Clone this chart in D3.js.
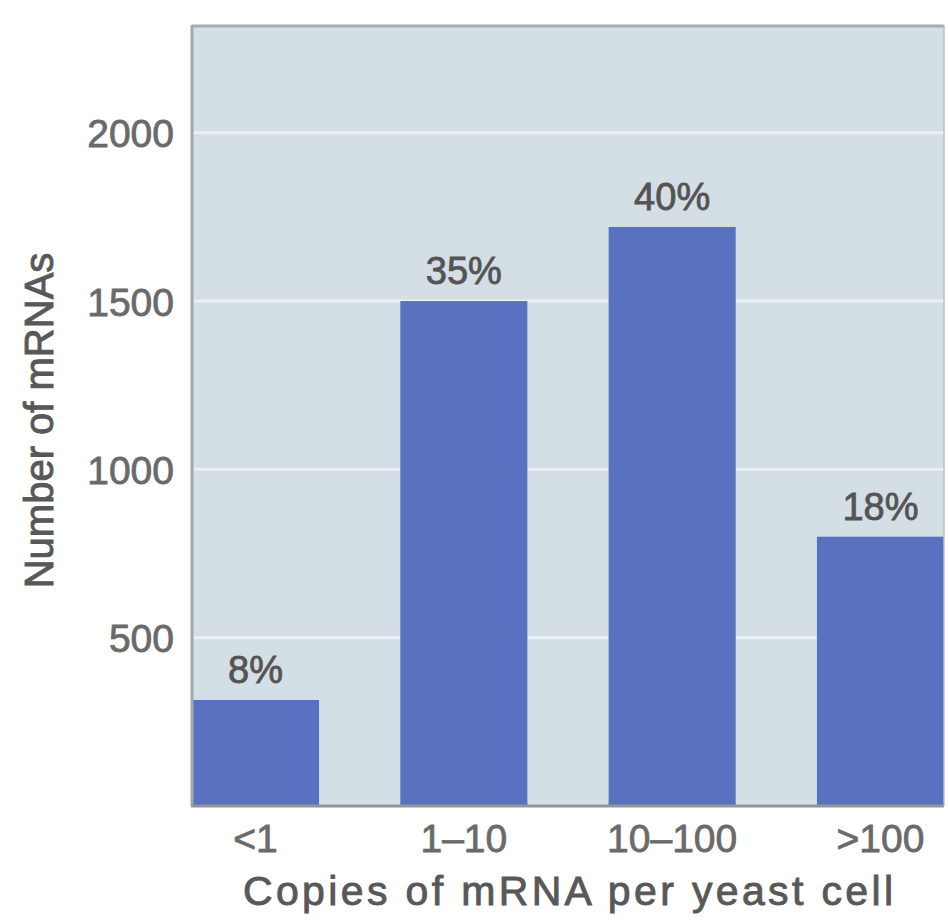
<!DOCTYPE html>
<html>
<head>
<meta charset="utf-8">
<script src="https://cdn.jsdelivr.net/npm/d3@7"></script>
<style>
  html, body { margin: 0; padding: 0; background: #ffffff; }
  svg { display: block; }
  text { font-family: "Liberation Sans", Arial, Helvetica, sans-serif; }
</style>
</head>
<body>
<script>
// ---- data ----
const categories = ["<1", "1\u201310", "10\u2013100", ">100"];
const counts = [315, 1500, 1720, 800];
const percentLabels = ["8%", "35%", "40%", "18%"];
const yTicks = [500, 1000, 1500, 2000];
const yMax = 2320;
const xTitle = "Copies of mRNA per yeast cell";
const yTitle = "Number of mRNAs";

// ---- layout ----
const W = 948, H = 924;
const pLeft = 192, pRight = 944, pTop = 25, pBottom = 806;

const svg = d3.select("body").append("svg").attr("width", W).attr("height", H);

const x = d3.scaleBand().domain(categories).range([pLeft, pRight]).paddingInner(0.39).paddingOuter(0);
const y = d3.scaleLinear().domain([0, yMax]).range([pBottom, pTop]);

// plot background
svg.append("rect").attr("x", pLeft).attr("y", pTop).attr("width", pRight - pLeft).attr("height", pBottom - pTop)
  .attr("fill", "#d4dee5");

// gridlines
svg.append("g").selectAll("line").data(yTicks).join("line")
  .attr("x1", pLeft).attr("x2", pRight)
  .attr("y1", d => y(d)).attr("y2", d => y(d))
  .attr("stroke", "#eaf0f4").attr("stroke-width", 3);

// bars
svg.append("g").selectAll("rect").data(counts).join("rect")
  .attr("x", (d, i) => x(categories[i]))
  .attr("width", x.bandwidth())
  .attr("y", d => y(d))
  .attr("height", d => y(0) - y(d))
  .attr("fill", "#5a71c0");

// frame
svg.append("line").attr("x1", pLeft).attr("x2", pRight).attr("y1", pTop + 1).attr("y2", pTop + 1)
  .attr("stroke", "#a3adb4").attr("stroke-width", 3);
svg.append("line").attr("x1", pLeft).attr("x2", pLeft).attr("y1", pTop).attr("y2", pBottom)
  .attr("stroke", "#a0a9b0").attr("stroke-width", 3);
svg.append("line").attr("x1", pRight).attr("x2", pRight).attr("y1", pTop).attr("y2", pBottom)
  .attr("stroke", "#b8c0c6").attr("stroke-width", 1.5);
svg.append("line").attr("x1", pLeft - 1).attr("x2", pRight).attr("y1", pBottom).attr("y2", pBottom)
  .attr("stroke", "#8f969c").attr("stroke-width", 3);

// y axis tick labels
const yAxis = d3.axisLeft(y).tickValues(yTicks).tickSize(0).tickPadding(18).tickFormat(d3.format("d"));
const gy = svg.append("g").attr("transform", `translate(${pLeft},0)`).call(yAxis);
gy.select(".domain").remove();
gy.selectAll("text").attr("font-size", 39).attr("fill", "#6a6a6a")
  .attr("stroke", "#6a6a6a").attr("stroke-width", 0.8)
  .attr("font-family", "'Liberation Sans', Arial, sans-serif").attr("dy", "0.36em");

// x axis tick labels
const xAxis = d3.axisBottom(x).tickSize(0).tickPadding(18);
const gx = svg.append("g").attr("transform", `translate(0,${pBottom})`).call(xAxis);
gx.select(".domain").remove();
gx.selectAll("text").attr("font-size", 39).attr("fill", "#6a6a6a")
  .attr("stroke", "#6a6a6a").attr("stroke-width", 0.8)
  .attr("font-family", "'Liberation Sans', Arial, sans-serif");

// percent labels
svg.append("g").selectAll("text").data(percentLabels).join("text")
  .attr("x", (d, i) => x(categories[i]) + x.bandwidth() / 2)
  .attr("y", (d, i) => y(counts[i]) - 17)
  .attr("text-anchor", "middle")
  .attr("font-size", 38).attr("fill", "#545454")
  .attr("stroke", "#545454").attr("stroke-width", 0.8)
  .text(d => d);

// axis titles
svg.append("text").attr("x", (pLeft + pRight) / 2).attr("y", 905)
  .attr("text-anchor", "middle").attr("font-size", 41).attr("fill", "#585858")
  .attr("stroke", "#585858").attr("stroke-width", 0.9)
  .attr("textLength", 650).attr("lengthAdjust", "spacing")
  .text(xTitle);

svg.append("text").attr("transform", `translate(53,${(pTop + pBottom) / 2 + 5}) rotate(-90)`)
  .attr("text-anchor", "middle").attr("font-size", 40).attr("fill", "#585858")
  .attr("stroke", "#585858").attr("stroke-width", 0.9)
  .text(yTitle);
</script>
</body>
</html>
